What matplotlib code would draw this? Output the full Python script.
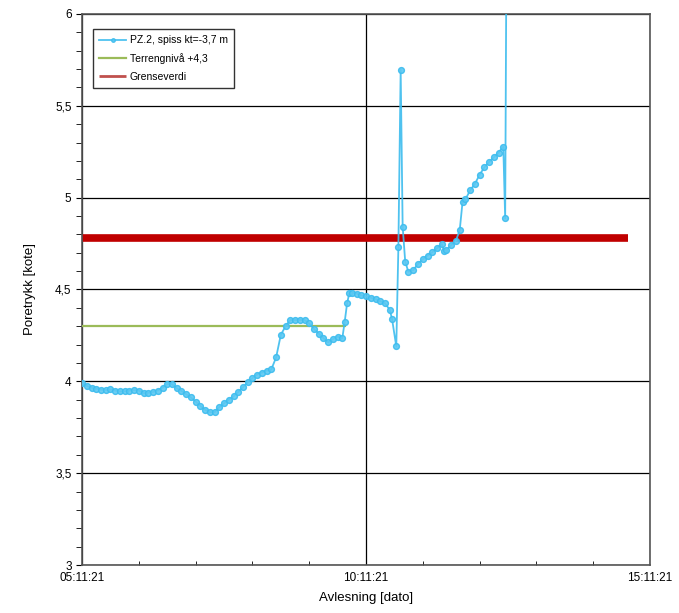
import datetime as dt
import matplotlib
matplotlib.use("Agg")
import matplotlib.pyplot as plt
import matplotlib.dates as mdates
from matplotlib.ticker import MultipleLocator, FuncFormatter

plt.rcParams['font.family'] = ['Liberation Sans', 'DejaVu Sans']

start = dt.datetime(2021, 11, 5)

# PZ.2 readings: time (days after 05.11.21) and pore pressure (kote)
pz_days = [0.000, 0.083, 0.167, 0.250, 0.333, 0.417, 0.500, 0.583, 0.667, 0.750,
           0.833, 0.917, 1.000, 1.083, 1.167, 1.250, 1.333, 1.417, 1.500, 1.583,
           1.667, 1.750, 1.833, 1.917, 2.000, 2.083, 2.167, 2.250, 2.333, 2.417,
           2.500, 2.583, 2.667, 2.750, 2.833, 2.917, 3.000, 3.083, 3.167, 3.250,
           3.333, 3.417, 3.500, 3.583, 3.667, 3.750, 3.833, 3.917, 4.000, 4.083,
           4.167, 4.250, 4.333, 4.417, 4.500, 4.583, 4.625, 4.667, 4.708, 4.750,
           4.833, 4.917, 5.000, 5.083, 5.167, 5.250, 5.333, 5.417, 5.458, 5.533,
           5.570, 5.610, 5.645, 5.690, 5.745, 5.833, 5.917, 6.000, 6.083, 6.167,
           6.250, 6.333, 6.375, 6.417, 6.500, 6.583, 6.650, 6.700, 6.750, 6.833,
           6.917, 7.000, 7.083, 7.167, 7.250, 7.333, 7.417, 7.450, 7.475]
pz_vals = [3.990, 3.975, 3.965, 3.960, 3.955, 3.953, 3.956, 3.950, 3.945, 3.946,
           3.950, 3.952, 3.950, 3.935, 3.938, 3.942, 3.950, 3.965, 3.985, 3.985,
           3.962, 3.948, 3.930, 3.912, 3.890, 3.866, 3.845, 3.832, 3.832, 3.860,
           3.880, 3.900, 3.918, 3.942, 3.968, 3.995, 4.018, 4.037, 4.048, 4.058,
           4.065, 4.130, 4.253, 4.300, 4.334, 4.334, 4.334, 4.334, 4.315, 4.285,
           4.260, 4.235, 4.212, 4.230, 4.243, 4.235, 4.325, 4.425, 4.483, 4.483,
           4.478, 4.468, 4.462, 4.455, 4.447, 4.437, 4.425, 4.390, 4.340, 4.190,
           4.733, 5.695, 4.842, 4.652, 4.597, 4.606, 4.640, 4.665, 4.685, 4.703,
           4.725, 4.748, 4.711, 4.715, 4.742, 4.766, 4.824, 4.978, 4.990, 5.040,
           5.075, 5.125, 5.165, 5.195, 5.220, 5.245, 5.278, 4.888, 6.500]

terreng_days = [0.0, 4.63]
terreng_vals = [4.30, 4.30]

grense_days = [0.0, 9.61]
grense_vals = [4.78, 4.78]

def to_dates(days):
    return [start + dt.timedelta(days=d) for d in days]

fig = plt.figure(figsize=(6.79, 6.13), dpi=100)
ax = fig.add_axes([0.1208, 0.0783, 0.8365, 0.8989])

ax.plot(to_dates(grense_days), grense_vals, color='#c00000', lw=5.5,
        solid_capstyle='butt', label='Grenseverdi', zorder=2)
ax.plot(to_dates(terreng_days), terreng_vals, color='#9bbb59', lw=1.6,
        label='Terrengnivå +4,3', zorder=3)
ax.plot(to_dates(pz_days), pz_vals, color='#3cbcee', lw=1.3, marker='o',
        ms=4.2, mec='#3cbcee', mfc='#5cc8f2', alpha=0.9,
        label='PZ.2, spiss kt=-3,7 m', zorder=4)

ax.set_xlim(start, start + dt.timedelta(days=10))
ax.set_ylim(3, 6)

ax.xaxis.set_major_locator(mdates.DayLocator(bymonthday=[5, 10, 15]))
ax.xaxis.set_minor_locator(mdates.DayLocator())
ax.xaxis.set_major_formatter(mdates.DateFormatter('%d:%m:%y'))
ax.yaxis.set_major_locator(MultipleLocator(0.5))
ax.yaxis.set_minor_locator(MultipleLocator(0.1))
ax.yaxis.set_major_formatter(FuncFormatter(lambda v, p: f"{v:g}".replace('.', ',')))

ax.grid(True, which='major', color='black', lw=0.9)
ax.set_axisbelow(True)
ax.tick_params(axis='y', which='both', direction='out', labelsize=8.5, length=4)
ax.tick_params(axis='x', which='major', direction='out', labelsize=8.5, length=0, pad=5)
ax.tick_params(axis='x', which='minor', direction='in', length=3)
for s in ax.spines.values():
    s.set_color('#555555')
    s.set_linewidth(1.2)

ax.set_xlabel('Avlesning [dato]', fontsize=9.5, labelpad=6)
ax.set_ylabel('Poretrykk [kote]', fontsize=9.5, labelpad=14)

h, l = ax.get_legend_handles_labels()
leg = ax.legend(h[::-1], l[::-1], loc='upper left', bbox_to_anchor=(0.0194, 0.9728),
                borderaxespad=0, fontsize=7.5, frameon=True, fancybox=False,
                handlelength=2.6, handletextpad=0.3, labelspacing=0.75,
                borderpad=0.6)
leg.get_frame().set_edgecolor('black')
leg.get_frame().set_linewidth(1.0)
for line in leg.get_lines():
    if line.get_label() == 'Grenseverdi':
        line.set_linewidth(2)
        line.set_color('#c0504d')
    if line.get_label().startswith('PZ.2'):
        line.set_markersize(2.5)

fig.savefig('out.png', dpi=100)
